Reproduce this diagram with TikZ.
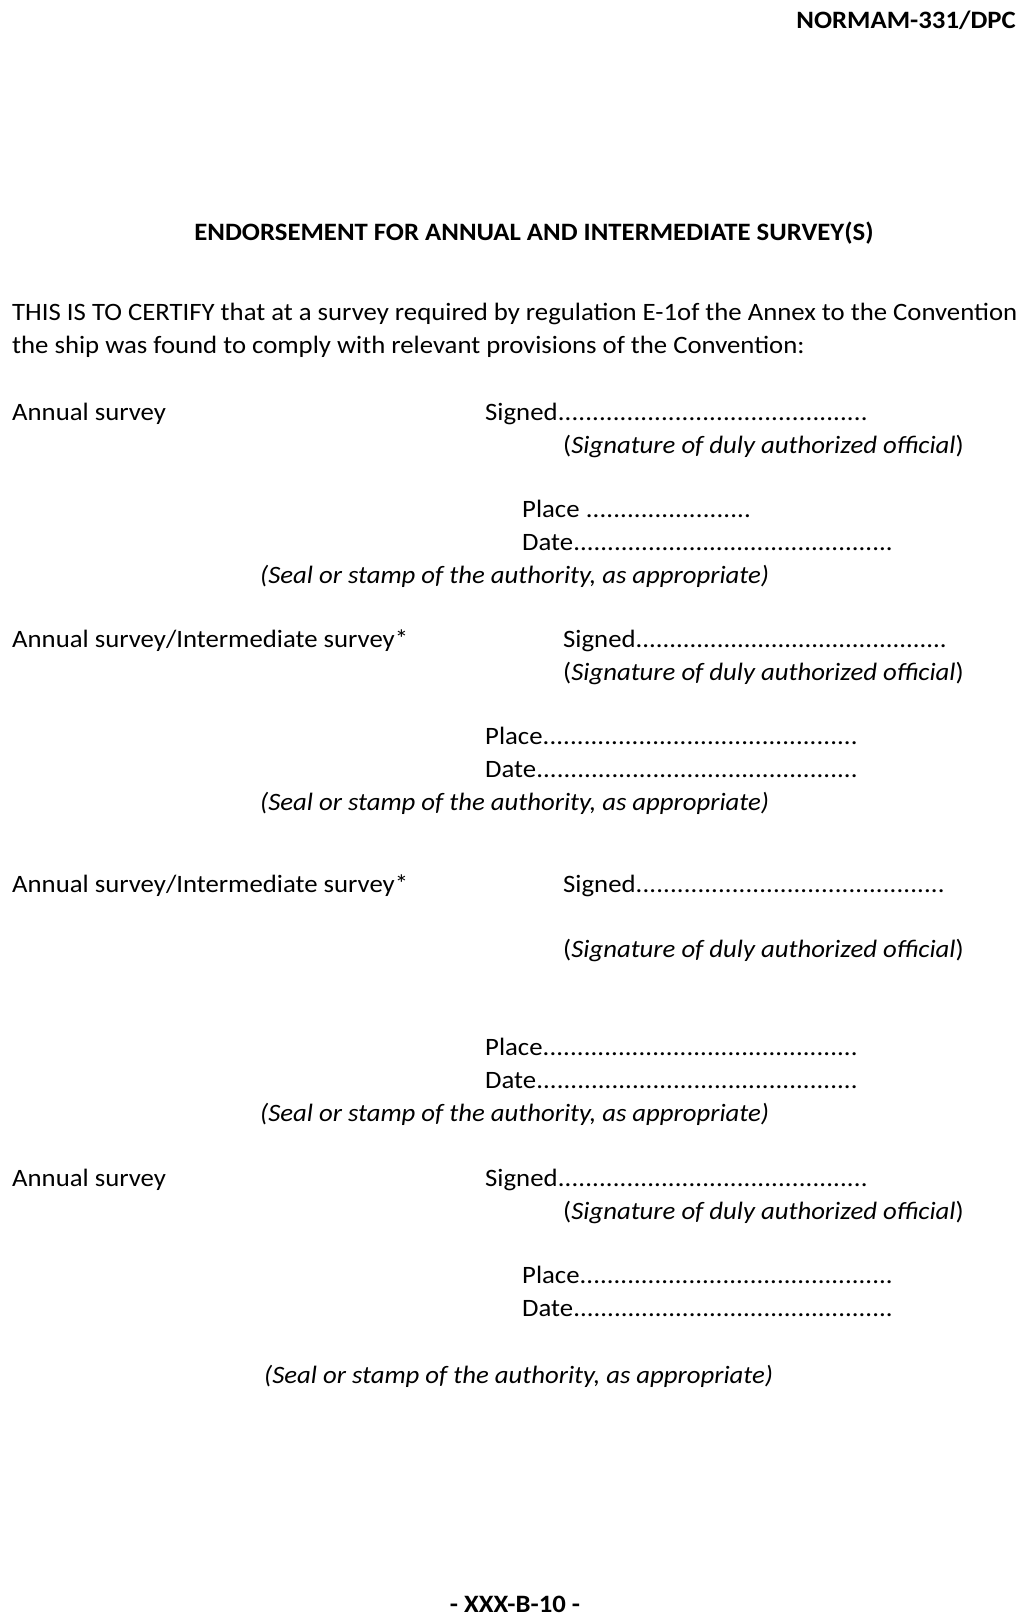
\documentclass[tikz,border=0pt]{standalone}
\usepackage{fontspec}
\setmainfont{Carlito}[FakeStretch=1.07]
\newcommand{\dotsto}[2]{\hbox to #1{#2\xleaders\hbox{.}\hfill}}
\begin{document}
\begin{tikzpicture}[x=1pt,y=-1pt,
  txt/.style={anchor=base west,inner sep=0pt,font=\fontsize{25}{30}\selectfont},
  bld/.style={inner sep=0pt,font=\fontsize{25}{30}\selectfont\bfseries}]
\useasboundingbox[fill=white] (0,0) rectangle (1024,1620);
\node[bld,anchor=base east] (hdr) at (1016,28) {NORMAM-331/DPC};
\node[bld,anchor=base] (title) at (534,240) {ENDORSEMENT FOR ANNUAL AND INTERMEDIATE SURVEY(S)};
\node[txt] (p1) at (12,320) {THIS IS TO CERTIFY that at a survey required by regulation E-1of the Annex to the Convention};
\node[txt] (p2) at (12,353) {the ship was found to comply with relevant provisions of the Convention:};
% block 1
\node[txt] (a1) at (12,420) {Annual survey};
\node[txt] (s1) at (485,420) {\dotsto{383pt}{Signed}};
\node[txt] (g1) at (563,453) {(\textit{Signature of duly authorized official})};
\node[txt] (pl1) at (522,517) {\dotsto{229pt}{Place }};
\node[txt] (d1) at (522,550) {\dotsto{371pt}{Date}};
\node[txt] (st1) at (260,583) {\textit{(Seal or stamp of the authority, as appropriate)}};
% block 2
\node[txt] (a2) at (12,647) {Annual survey/Intermediate survey*};
\node[txt] (s2) at (563,647) {\dotsto{384pt}{Signed}};
\node[txt] (g2) at (563,680) {(\textit{Signature of duly authorized official})};
\node[txt] (pl2) at (485,744) {\dotsto{373pt}{Place}};
\node[txt] (d2) at (485,777) {\dotsto{373pt}{Date}};
\node[txt] (st2) at (260,810) {\textit{(Seal or stamp of the authority, as appropriate)}};
% block 3
\node[txt] (a3) at (12,892) {Annual survey/Intermediate survey*};
\node[txt] (s3) at (563,892) {\dotsto{382pt}{Signed}};
\node[txt] (g3) at (563,957) {(\textit{Signature of duly authorized official})};
\node[txt] (pl3) at (485,1055) {\dotsto{373pt}{Place}};
\node[txt] (d3) at (485,1088) {\dotsto{373pt}{Date}};
\node[txt] (st3) at (260,1121) {\textit{(Seal or stamp of the authority, as appropriate)}};
% block 4
\node[txt] (a4) at (12,1186) {Annual survey};
\node[txt] (s4) at (485,1186) {\dotsto{383pt}{Signed}};
\node[txt] (g4) at (563,1219) {(\textit{Signature of duly authorized official})};
\node[txt] (pl4) at (522,1283) {\dotsto{371pt}{Place}};
\node[txt] (d4) at (522,1316) {\dotsto{371pt}{Date}};
\node[txt] (st4) at (264,1383) {\textit{(Seal or stamp of the authority, as appropriate)}};
\node[bld,anchor=base] (ftr) at (515,1612) {- XXX-B-10 -};
\end{tikzpicture}
\end{document}
